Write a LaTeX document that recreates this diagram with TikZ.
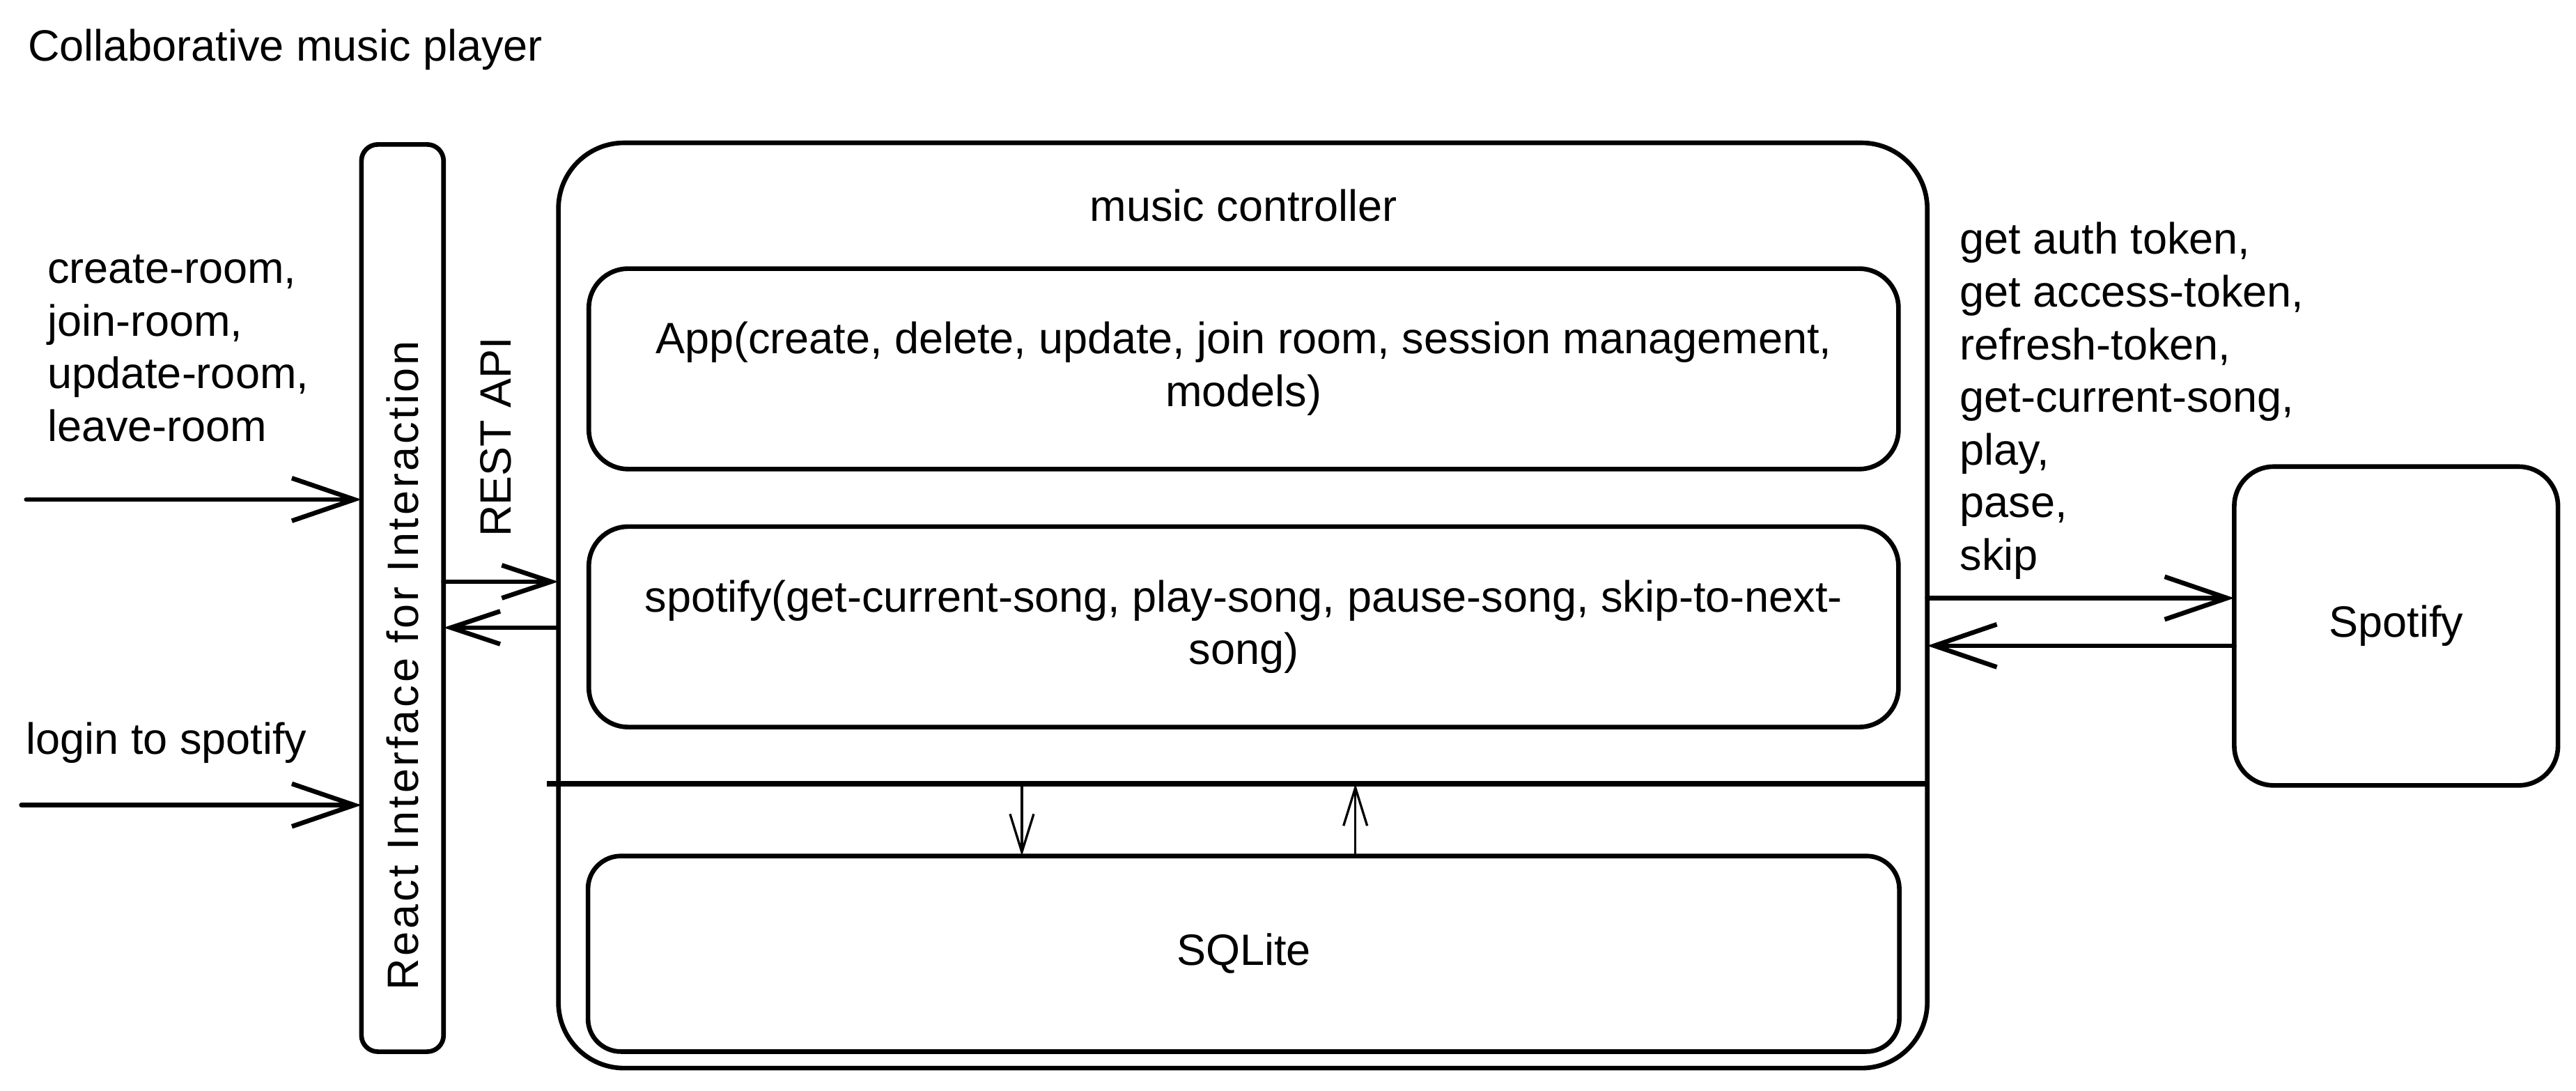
\documentclass[tikz,border=0pt]{standalone}
\usepackage{fontspec}
\setmainfont{Liberation Sans}
\newfontfamily\widehand[LetterSpace=6]{Liberation Sans}
\usetikzlibrary{arrows.meta}

\tikzset{
  hand/.style={font=\fontsize{19pt}{22.8pt}\selectfont},
  box/.style={draw, line width=2pt, inner sep=0pt, outer sep=0pt, rounded corners=#1},
  box/.default=0.6cm,
  flow/.style={line width=2pt, line cap=round,
    -{Straight Barb[length=0.95cm, width=0.65cm, line width=2pt]}},
  restflow/.style={line width=2pt, line cap=round,
    -{Straight Barb[length=0.75cm, width=0.5cm, line width=2pt]}},
  dbflow/.style={line width=1pt,
    -{Straight Barb[length=0.58cm, width=0.36cm, line width=1pt]}},
}

\begin{document}
\begin{tikzpicture}[x=0.025cm,y=-0.025cm,hand]
  \useasboundingbox (0,0) rectangle (1568,664);

  \node[anchor=west] (title) at (12,30) {Collaborative music player};

  % client side
  \node[box=0.25cm, minimum width=1.25cm, minimum height=13.8cm] (react) at (245,364) {};
  \node[rotate=90, font=\fontsize{19pt}{22.8pt}\widehand] (reactlbl) at (245,405)
    {React Interface for Interaction};
  \node[anchor=west, align=left] (roomops) at (24,212)
    {create-room,\\join-room,\\update-room,\\leave-room};
  \node[anchor=west] (login) at (11,452) {login to spotify};
  \coordinate (in1) at (16,304);
  \coordinate (in2) at (13,490);
  \draw[flow] (in1) -- (in1 -| react.west);
  \draw[flow] (in2) -- (in2 -| react.west);

  % music controller
  \node[box=1cm, minimum width=20.825cm, minimum height=14.075cm] (ctrl) at (756.5,368.5) {};
  \node (ctrllbl) at (757,125) {music controller};
  \node[box, minimum width=19.925cm, minimum height=3.05cm, align=center] (app) at (757,224.5)
    {App(create, delete, update, join room, session management,\\models)};
  \node[box, minimum width=19.925cm, minimum height=3.05cm, align=center] (spot) at (757,381.5)
    {spotify(get-current-song, play-song, pause-song, skip-to-next-\\song)};
  \node[box=0.5cm, minimum width=19.95cm, minimum height=2.975cm] (sqlite) at (757,580.5) {SQLite};
  \coordinate (sepL) at (333,477);
  \coordinate (sepR) at (ctrl.east |- sepL);
  \draw[line width=2.4pt] (sepL) -- (sepR);
  \draw[dbflow] (sepL -| 622,0) -- (sqlite.north -| 622,0);
  \draw[dbflow] (sqlite.north -| 825,0) -- (sepL -| 825,0);

  % REST API
  \node[rotate=90] (restapi) at (302,266) {REST API};
  \draw[restflow] (react.east |- 0,354) -- (ctrl.west |- 0,354);
  \draw[restflow] (ctrl.west |- 0,382) -- (react.east |- 0,382);

  % external service
  \node[box, minimum width=4.925cm, minimum height=4.85cm] (spotify) at (1458.5,381) {Spotify};
  \node[anchor=west, align=left] (authops) at (1188,244)
    {get auth token,\\get access-token,\\refresh-token,\\get-current-song,\\play,\\pase,\\skip};
  \draw[flow] (ctrl.east |- 0,364) -- (spotify.west |- 0,364);
  \draw[flow] (spotify.west |- 0,393) -- (ctrl.east |- 0,393);
\end{tikzpicture}
\end{document}
